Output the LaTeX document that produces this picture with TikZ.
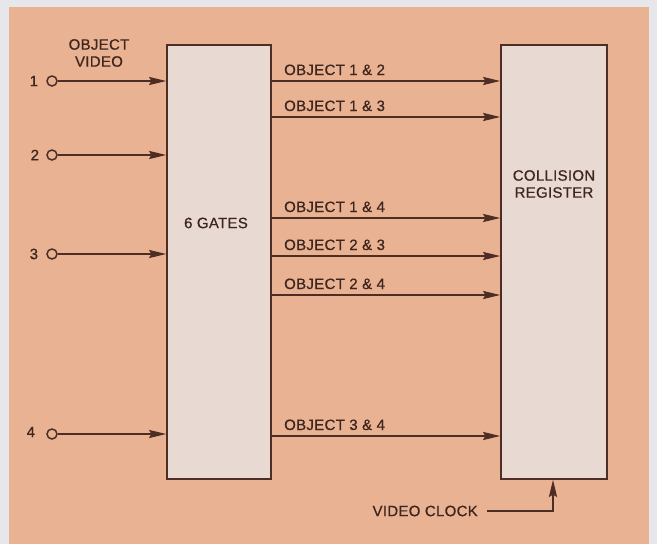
\documentclass[tikz,border=0pt]{standalone}
\usepackage{fontspec}
\setmainfont{Liberation Sans}
\newfontfamily\lettering[LetterSpace=2,FakeBold=0.6]{Liberation Sans}
\usetikzlibrary{arrows.meta,positioning,calc}

\definecolor{peach}{RGB}{233,178,147}
\definecolor{paper}{RGB}{231,231,235}
\definecolor{boxfill}{RGB}{233,217,211}
\definecolor{ink}{RGB}{78,46,36}

\tikzset{
  sig/.style={ink, line width=1.7pt, -{Stealth[length=17pt,width=8pt,inset=2pt]}},
  blockbox/.style={draw=ink, fill=boxfill, line width=1.6pt, inner sep=0pt},
  jack/.style={circle, draw=ink, line width=1.5pt, minimum size=10pt, inner sep=0pt},
  txt/.style={ink!80!black, font=\lettering\fontsize{15}{17}\selectfont, inner sep=0pt}
}

\begin{document}
\begin{tikzpicture}[x=1pt,y=-1pt]
    % paper and plate
    \fill[paper] (0,0) rectangle (657,544);
    \fill[peach] (9,7) rectangle (649,544);
    \useasboundingbox (0,0) rectangle (657,544);
    % blocks
    \node[blockbox, minimum width=104pt, minimum height=434pt] (gates) at (219,262) {};
    \node[blockbox, minimum width=106pt, minimum height=434pt] (reg) at (554,262) {};
    \node[txt] (gateslbl) at (216,223) {6 GATES};
    \node[txt, align=center] (reglbl) at (554,184) {COLLISION\\REGISTER};
    % inputs
    \node[txt, align=center] (vidlbl) at (99,53) {OBJECT\\VIDEO};
    \node[jack] (in1) at (52,81) {};
    \node[jack] (in2) at (52,155) {};
    \node[jack] (in3) at (52,254) {};
    \node[jack] (in4) at (52,434) {};
    \node[txt, left=8pt of in1] (n1) {1};
    \node[txt, left=7pt of in2] (n2) {2};
    \node[txt, left=8pt of in3] (n3) {3};
    \node[txt, left=11pt of in4, yshift=2pt] (n4) {4};
    \draw[sig] (in1) -- (in1 -| gates.west);
    \draw[sig] (in2) -- (in2 -| gates.west);
    \draw[sig] (in3) -- (in3 -| gates.west);
    \draw[sig] (in4) -- (in4 -| gates.west);
    % pairs
    \foreach \y/\pair in {81/1 \& 2, 117/1 \& 3, 218/1 \& 4, 256/2 \& 3, 295/2 \& 4, 436/3 \& 4} {
      \draw[sig] (gates.east |- 0,\y) -- (reg.west |- 0,\y);
      \node[txt, anchor=base west] at (284,\y-6) {OBJECT \pair};
    }
    % clock
    \node[txt, anchor=east] (clk) at (478,511) {VIDEO CLOCK};
    \draw[sig] ([xshift=9pt]clk.east) -| ([xshift=-1pt]reg.south);
\end{tikzpicture}
\end{document}
